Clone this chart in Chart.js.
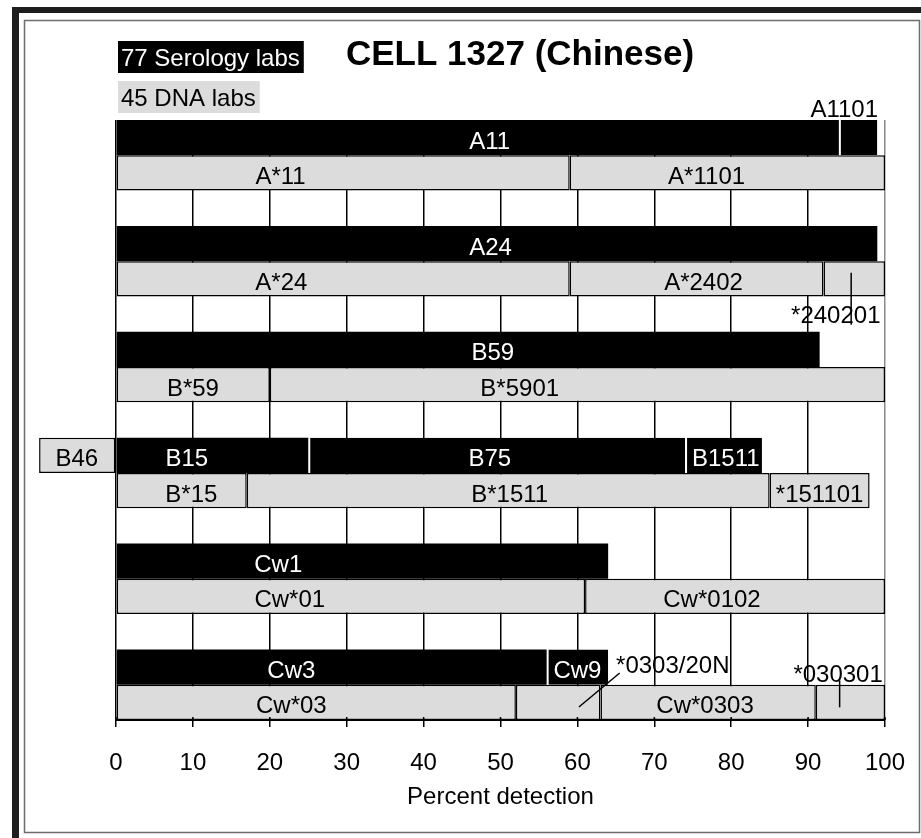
<!DOCTYPE html>
<html><head><meta charset="utf-8">
<script src="https://cdn.jsdelivr.net/npm/chart.js@4.4.1/dist/chart.umd.min.js"></script>
<style>html,body{margin:0;padding:0;background:#fff;}canvas{display:block;}</style>
</head><body>
<canvas id="c" width="921" height="838"></canvas>
<script>
// ---- data ----
const rowLabels = ['A11','A*11','','A24','A*24','','B59','B*59','','B15','B*15','','Cw1','Cw*01','','Cw3','Cw*03'];
const seroRows = [0, 3, 6, 9, 12, 15];
const dnaRows  = [1, 4, 7, 10, 13, 16];

const seroNames  = [['A11','A1101'], ['A24'], ['B59'], ['B46','B15','B75','B1511'], ['Cw1'], ['Cw3','Cw9']];
const seroBreaks = [[0,94,99], [0,99], [0,91.5], [-10,0,25,74,84], [0,64], [0,56,64]];
const seroLabelX = [[48.6,94.7], [48.7], [49.0], [-5.1,9.2,48.6,79.3], [21.1], [22.8,60]];

const dnaNames  = [['A*11','A*1101'], ['A*24','A*2402','*240201'], ['B*59','B*5901'], ['B*15','B*1511','*151101'], ['Cw*01','Cw*0102'], ['Cw*03','*0303/20N','Cw*0303','*030301']];
const dnaBreaks = [[0,59,100], [0,59,92,100], [0,20,100], [0,17,85,98], [0,61,100], [0,52,63,91,100]];
const dnaLabelX = [[21.4,76.8], [21.5,76.4,93.6], [10.0,52.5], [9.8,51.2,91.5], [22.6,77.5], [22.8,72.4,76.6,93.9]];

const xTicks = [0,10,20,30,40,50,60,70,80,90,100];
const titleText = 'CELL 1327 (Chinese)';
const seroLegend = '77 Serology labs';
const dnaLegend = '45 DNA labs';
const axisTitle = 'Percent detection';

// ---- styling (not data) ----
const FONT = '"Liberation Sans", Arial, Helvetica, sans-serif';
const GREY = '#dcdcdc';
const greyInSero = ['B46'];
// labels drawn outside their segment: baseline offset from row centre (px), optional leader [x%, dy]
const outsideLabels = {
  'A1101':     {dy: -20.6},
  '*240201':   {dy: 44,    leader: [[95.6,-6],[95.6,46]]},
  '*0303/20N': {dy: -29.4, leader: [[60.2,4.6],[65.5,-29.4]]},
  '*030301':   {dy: -20.4, leader: [[94.1,-22],[94.1,5]]}
};

// ---- build datasets ----
const maxSeg = 4;
const datasets = [];
for (let k = 0; k < maxSeg; k++) {
  const data = [], bg = [], bc = [], bw = [];
  for (let i = 0; i < rowLabels.length; i++) {
    let names = null, br = null, sero = false;
    const si = seroRows.indexOf(i), di = dnaRows.indexOf(i);
    if (si >= 0) { names = seroNames[si]; br = seroBreaks[si]; sero = true; }
    else if (di >= 0) { names = dnaNames[di]; br = dnaBreaks[di]; }
    if (!names || k >= names.length) { data.push(null); bg.push(GREY); bc.push('#000'); bw.push(0); continue; }
    data.push([br[k], br[k+1]]);
    const name = names[k];
    if (sero && greyInSero.indexOf(name) < 0) {
      bg.push('#000');
      const prevGrey = k > 0 && greyInSero.indexOf(names[k-1]) >= 0;
      if (k === 0 || prevGrey) { bc.push('#000'); bw.push(0); }
      else { bc.push('#fff'); bw.push({left: 2, top: 0, right: 0, bottom: 0}); }
    } else {
      bg.push(GREY); bc.push('#000'); bw.push(1.5);
    }
  }
  datasets.push({
    label: 'seg' + k, data, backgroundColor: bg, borderColor: bc, borderWidth: bw,
    borderSkipped: false, barPercentage: 1, categoryPercentage: 1, grouped: false,
    clip: false, inflateAmount: 0
  });
}

// ---- plugins ----
const framePlugin = {
  id: 'frame',
  beforeDraw(chart) {
    const ctx = chart.ctx;
    ctx.save();
    ctx.fillStyle = '#fff';
    ctx.fillRect(0, 0, chart.width, chart.height);
    ctx.fillStyle = '#1e1e1e';
    ctx.fillRect(12, 7, 7, chart.height - 7);
    ctx.fillRect(12, 7, chart.width - 12, 6);
    ctx.strokeStyle = '#6e6e6e';
    ctx.lineWidth = 1.5;
    ctx.strokeRect(24.5, 20.5, 895, 812);
    ctx.restore();
  }
};

function drawText(ctx, txt, x, y, color, align) {
  ctx.fillStyle = color;
  ctx.textAlign = align || 'center';
  ctx.textBaseline = 'alphabetic';
  ctx.fillText(txt, x, y);
}

const labelPlugin = {
  id: 'labels',
  afterDatasetsDraw(chart) {
    const ctx = chart.ctx, xs = chart.scales.x, ys = chart.scales.y;
    ctx.save();
    ctx.font = '24px ' + FONT;
    const drawRow = (rowIdx, names, lx, sero) => {
      const yc = ys.getPixelForValue(rowIdx);
      names.forEach((name, j) => {
        const x = xs.getPixelForValue(lx[j]);
        const out = outsideLabels[name];
        if (out) {
          if (out.leader) {
            ctx.strokeStyle = '#000'; ctx.lineWidth = 1.5;
            ctx.beginPath();
            ctx.moveTo(xs.getPixelForValue(out.leader[0][0]), yc + out.leader[0][1]);
            ctx.lineTo(xs.getPixelForValue(out.leader[1][0]), yc + out.leader[1][1]);
            ctx.stroke();
          }
          drawText(ctx, name, x, yc + out.dy, '#000');
        } else {
          const white = sero && greyInSero.indexOf(name) < 0;
          drawText(ctx, name, x, yc + 11, white ? '#fff' : '#000');
        }
      });
    };
    seroRows.forEach((r, i) => drawRow(r, seroNames[i], seroLabelX[i], true));
    dnaRows.forEach((r, i) => drawRow(r, dnaNames[i], dnaLabelX[i], false));
    // tick marks crossing the axis upward
    ctx.strokeStyle = '#000'; ctx.lineWidth = 1.5;
    xTicks.forEach(v => {
      const x = xs.getPixelForValue(v);
      ctx.beginPath(); ctx.moveTo(x, chart.chartArea.bottom - 3); ctx.lineTo(x, chart.chartArea.bottom); ctx.stroke();
    });
    ctx.restore();
  },
  afterDraw(chart) {
    const ctx = chart.ctx;
    ctx.save();
    // title
    ctx.font = 'bold 35px ' + FONT;
    drawText(ctx, titleText, 346, 65, '#000', 'left');
    // legend
    ctx.font = '24px ' + FONT;
    const w1 = ctx.measureText(seroLegend).width;
    ctx.fillStyle = '#000'; ctx.fillRect(118, 41, w1 + 7, 32);
    drawText(ctx, seroLegend, 121, 66, '#fff', 'left');
    const w2 = ctx.measureText(dnaLegend).width;
    ctx.fillStyle = GREY; ctx.fillRect(118, 81, w2 + 7, 32);
    drawText(ctx, dnaLegend, 121, 106, '#000', 'left');
    ctx.restore();
  }
};

new Chart(document.getElementById('c'), {
  type: 'bar',
  data: { labels: rowLabels, datasets },
  options: {
    indexAxis: 'y',
    responsive: false,
    animation: false,
    devicePixelRatio: 1,
    layout: { padding: { left: 116, right: 36, top: 120, bottom: 0 } },
    plugins: { legend: { display: false }, tooltip: { enabled: false }, title: { display: false } },
    scales: {
      y: { type: 'category', display: false, grid: { display: false } },
      x: {
        type: 'linear', min: 0, max: 100,
        afterBuildTicks: (scale) => { scale.ticks = xTicks.map(v => ({ value: v })); },
        afterFit: (scale) => { scale.height = 118; scale.paddingLeft = 0; scale.paddingRight = 0; },
        border: { display: true, color: '#000', width: 2 },
        grid: {
          color: (c) => (c.tick && c.tick.value === 100) ? '#8a8a8a' : '#000',
          lineWidth: 1.5, tickLength: 7, tickColor: '#000', drawOnChartArea: true
        },
        ticks: { color: '#000', font: { family: FONT, size: 24 }, padding: 22, maxRotation: 0, autoSkip: false },
        title: { display: true, text: axisTitle, color: '#000', font: { family: FONT, size: 24 }, padding: { top: 0, bottom: 26 } }
      }
    }
  },
  plugins: [framePlugin, labelPlugin]
});
</script>
</body></html>
